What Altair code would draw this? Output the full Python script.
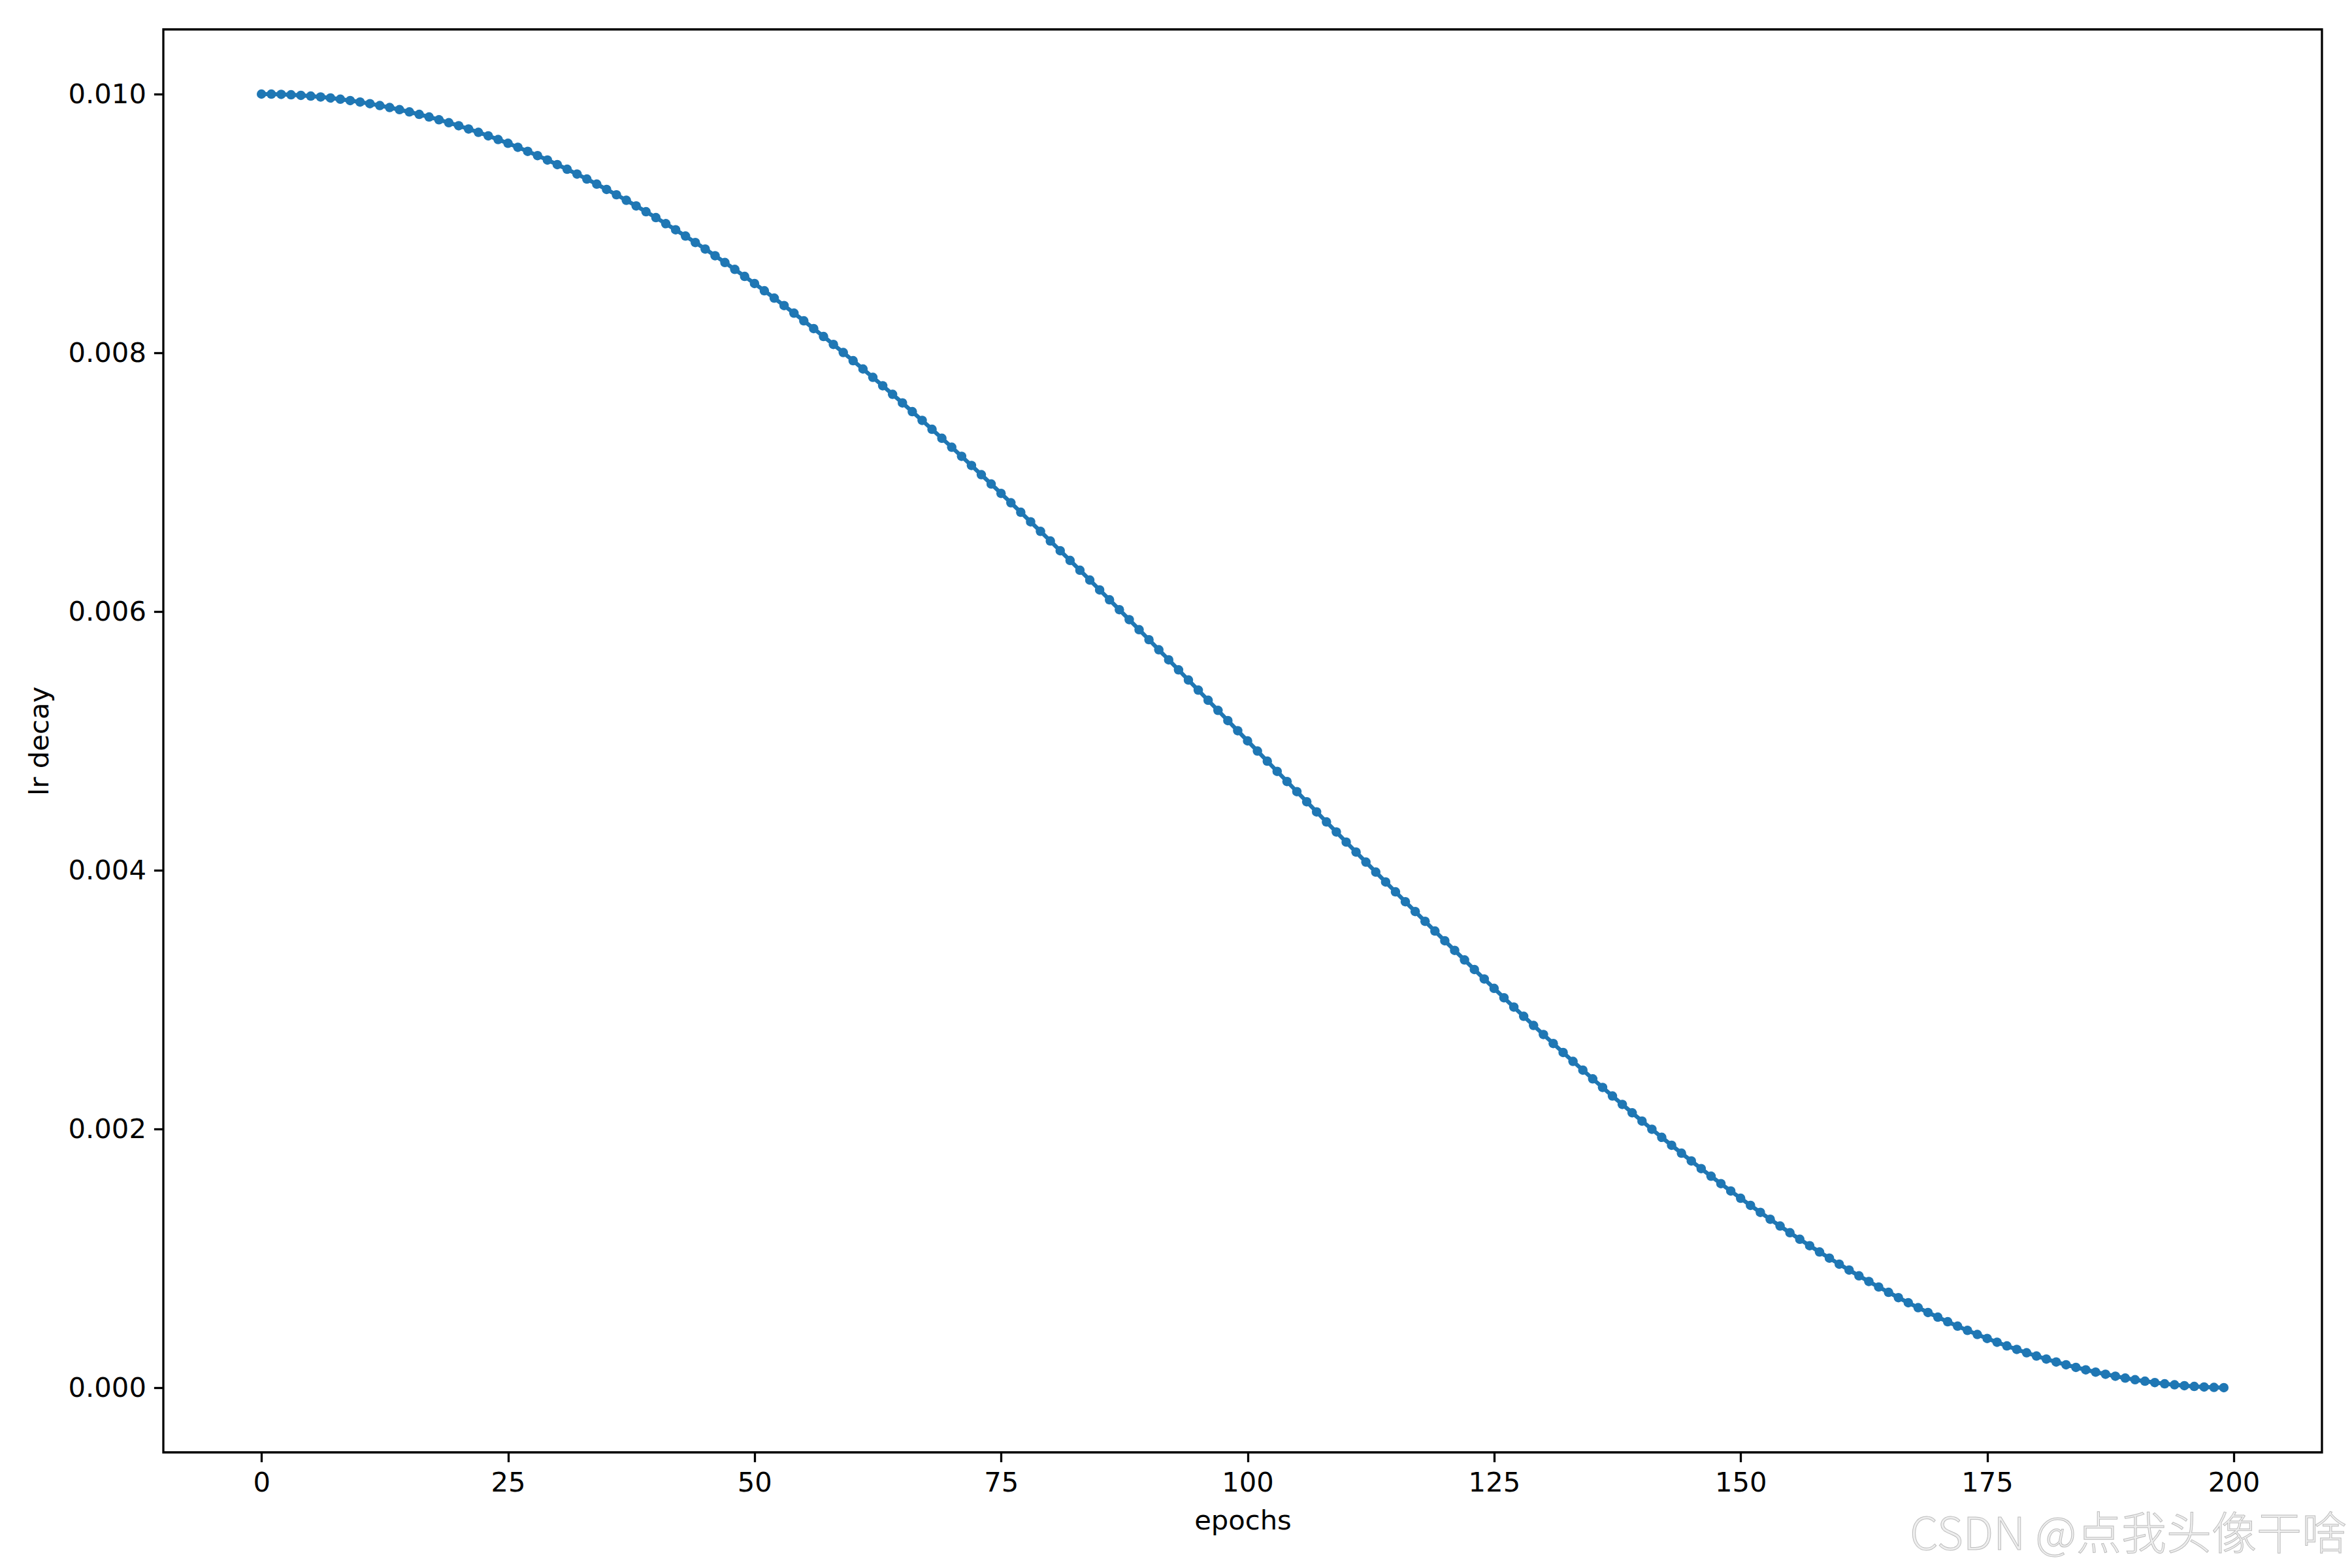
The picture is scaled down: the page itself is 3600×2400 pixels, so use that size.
import altair as alt
import pandas as pd

epochs = list(range(200))
lr = [
    0.0100000, 0.0099994, 0.0099975, 0.0099945, 0.0099901, 0.0099846, 0.0099778, 0.0099698, 0.0099606, 0.0099501,
    0.0099384, 0.0099256, 0.0099114, 0.0098961, 0.0098796, 0.0098618, 0.0098429, 0.0098228, 0.0098015, 0.0097790,
    0.0097553, 0.0097304, 0.0097044, 0.0096772, 0.0096489, 0.0096194, 0.0095888, 0.0095570, 0.0095241, 0.0094901,
    0.0094550, 0.0094188, 0.0093815, 0.0093432, 0.0093037, 0.0092632, 0.0092216, 0.0091790, 0.0091354, 0.0090908,
    0.0090451, 0.0089984, 0.0089508, 0.0089022, 0.0088526, 0.0088020, 0.0087506, 0.0086982, 0.0086448, 0.0085906,
    0.0085355, 0.0084796, 0.0084227, 0.0083651, 0.0083066, 0.0082472, 0.0081871, 0.0081262, 0.0080645, 0.0080021,
    0.0079389, 0.0078750, 0.0078104, 0.0077451, 0.0076791, 0.0076125, 0.0075452, 0.0074773, 0.0074088, 0.0073396,
    0.0072700, 0.0071997, 0.0071289, 0.0070576, 0.0069857, 0.0069134, 0.0068406, 0.0067674, 0.0066937, 0.0066196,
    0.0065451, 0.0064702, 0.0063950, 0.0063194, 0.0062434, 0.0061672, 0.0060907, 0.0060139, 0.0059369, 0.0058596,
    0.0057822, 0.0057045, 0.0056267, 0.0055487, 0.0054705, 0.0053923, 0.0053140, 0.0052355, 0.0051571, 0.0050785,
    0.0050000, 0.0049215, 0.0048429, 0.0047645, 0.0046860, 0.0046077, 0.0045295, 0.0044513, 0.0043733, 0.0042955,
    0.0042178, 0.0041404, 0.0040631, 0.0039861, 0.0039093, 0.0038328, 0.0037566, 0.0036806, 0.0036050, 0.0035298,
    0.0034549, 0.0033804, 0.0033063, 0.0032326, 0.0031594, 0.0030866, 0.0030143, 0.0029424, 0.0028711, 0.0028003,
    0.0027300, 0.0026604, 0.0025912, 0.0025227, 0.0024548, 0.0023875, 0.0023209, 0.0022549, 0.0021896, 0.0021250,
    0.0020611, 0.0019979, 0.0019355, 0.0018738, 0.0018129, 0.0017528, 0.0016934, 0.0016349, 0.0015773, 0.0015204,
    0.0014645, 0.0014094, 0.0013552, 0.0013018, 0.0012494, 0.0011980, 0.0011474, 0.0010978, 0.0010492, 0.0010016,
    0.0009549, 0.0009092, 0.0008646, 0.0008210, 0.0007784, 0.0007368, 0.0006963, 0.0006568, 0.0006185, 0.0005812,
    0.0005450, 0.0005099, 0.0004759, 0.0004430, 0.0004112, 0.0003806, 0.0003511, 0.0003228, 0.0002956, 0.0002696,
    0.0002447, 0.0002210, 0.0001985, 0.0001772, 0.0001571, 0.0001382, 0.0001204, 0.0001039, 0.0000886, 0.0000744,
    0.0000616, 0.0000499, 0.0000394, 0.0000302, 0.0000222, 0.0000154, 0.0000099, 0.0000055, 0.0000025, 0.0000006,
]
x_ticks = [0, 25, 50, 75, 100, 125, 150, 175, 200]
y_ticks = [0.0, 0.002, 0.004, 0.006, 0.008, 0.010]
x_title = "epochs"
y_title = "lr decay"
watermark = ["CSDN @点我头像干啥"]

df = pd.DataFrame({"epochs": epochs, "lr": lr})

FS = 41.7
X = alt.X(
    "epochs:Q",
    scale=alt.Scale(domain=[-9.95, 208.95], nice=False, zero=False),
    axis=alt.Axis(values=x_ticks, title=x_title, format="d", titlePadding=16),
)
Y = alt.Y(
    "lr:Q",
    scale=alt.Scale(domain=[-0.0005, 0.0105], nice=False, zero=False),
    axis=alt.Axis(values=y_ticks, title=y_title, format=".3f", titlePadding=22),
)

base = alt.Chart(df)
line = base.mark_line(color="#1f77b4", strokeWidth=6.25).encode(x=X, y=Y)
points = base.mark_circle(size=210, color="#1f77b4", opacity=1).encode(x=X, y=Y)

wm = alt.Chart(pd.DataFrame({"t": watermark})).mark_text(
    align="right", baseline="middle", fontSize=69, font="Noto Sans CJK SC",
    fontWeight=300, color="#eeeeee", stroke="#bdbdbd", strokeWidth=1,
).encode(x=alt.value(3342), y=alt.value(2306), text="t:N")

chart = (
    alt.layer(line, points, wm)
    .properties(
        width=3304,
        height=2178,
        autosize=alt.AutoSizeParams(type="none"),
        padding={"left": 242, "top": 37, "right": 38, "bottom": 169},
        background="white",
    )
    .configure_view(stroke="black", strokeWidth=3.3)
    .configure_axis(
        grid=False,
        domain=False,
        ticks=True,
        tickSize=14.6,
        tickWidth=3.3,
        tickColor="black",
        labelFont="DejaVu Sans",
        labelFontSize=FS,
        labelColor="black",
        labelPadding=12,
        titleFont="DejaVu Sans",
        titleFontSize=FS,
        titleFontWeight="normal",
        titleColor="black",
    )
)

chart.save("out.html", embed_options={"renderer": "svg", "actions": False})
